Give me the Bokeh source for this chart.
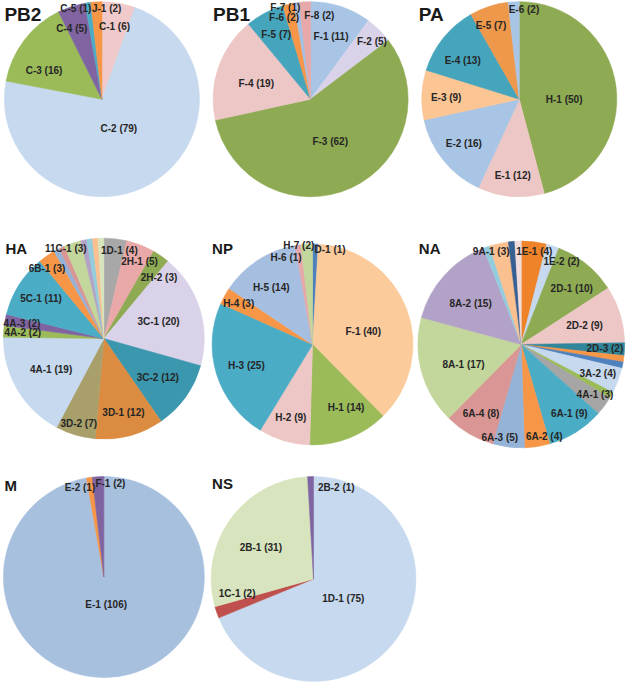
import math
from bokeh.plotting import figure
from bokeh.models import Range1d, ColumnDataSource
from bokeh.embed import file_html
from bokeh.resources import INLINE
from bokeh.core.properties import value

# ---------------- data (clockwise from 12 o'clock) ----------------
PB2_labels = ["C-1", "C-2", "C-3", "C-4", "C-5", "J-1"]
PB2_values = [6, 79, 16, 5, 1, 2]

PB1_labels = ["F-1", "F-2", "F-3", "F-4", "F-5", "F-6", "F-7", "F-8"]
PB1_values = [11, 5, 62, 19, 7, 2, 1, 2]

PA_labels = ["H-1", "E-1", "E-2", "E-3", "E-4", "E-5", "E-6"]
PA_values = [50, 12, 16, 9, 13, 7, 2]

HA_labels = ["1D-1", "2H-1", "2H-2", "3C-1", "3C-2", "3D-1", "3D-2", "4A-1",
             "4A-2", "4A-3", "5C-1", "6B-1", "", "", "11C-1", "", "", "", ""]
HA_values = [4, 5, 3, 20, 12, 12, 7, 19, 2, 2, 11, 3, 1, 1, 3, 1, 1, 1, 1]

NP_labels = ["D-1", "F-1", "H-1", "H-2", "H-3", "H-4", "H-5", "H-6", "H-7"]
NP_values = [1, 40, 14, 9, 25, 3, 14, 1, 2]

NA_labels = ["1E-1", "1E-2", "2D-1", "2D-2", "2D-3", "", "", "3A-2", "", "4A-1",
             "6A-1", "6A-2", "6A-3", "6A-4", "8A-1", "8A-2", "", "9A-1", "", ""]
NA_values = [4, 2, 10, 9, 2, 1, 1, 4, 1, 3, 9, 4, 5, 8, 17, 15, 1, 3, 1, 1]

M_labels = ["E-1", "E-2", "F-1"]
M_values = [106, 1, 2]

NS_labels = ["1D-1", "1C-1", "2B-1", "2B-2"]
NS_values = [75, 2, 31, 1]

# ---------------- styles ----------------
BLUE_L = "#C6D9EE"; GREEN = "#9BBB59"; GREEN_D = "#8EAA52"; PURPLE = "#8064A2"
TEAL = "#4BACC6"; ORANGE = "#F79646"; PINK = "#EDC7C5"; BLUE_M = "#A9C5E6"

PB2_colors = ["#F0CACA", BLUE_L, GREEN, PURPLE, TEAL, ORANGE]
PB1_colors = [BLUE_M, "#D9D2E9", GREEN_D, PINK, "#45A5BD", ORANGE, "#A6BFE0", "#E6A8A8"]
PA_colors = [GREEN_D, PINK, BLUE_M, "#FBC594", "#45A5BD", "#EE984C", BLUE_M]
HA_colors = ["#A8A8A8", "#E8A9A8", GREEN_D, "#D9D2E9", "#3A97AE", "#DC8C40", "#A99F6B",
             BLUE_L, GREEN, PURPLE, TEAL, ORANGE, "#95B3D7", "#D99694", "#C3D69B",
             "#B3A2C7", "#93CDDD", "#FAC090", "#D7E4BD"]
NP_colors = ["#4F81BD", "#FBCB9C", GREEN, PINK, TEAL, ORANGE, "#A6BFE0", "#E6A8A8", "#C3D69B"]
NA_colors = ["#EE8329", BLUE_L, GREEN_D, PINK, "#31869B", ORANGE, "#4F81BD", BLUE_L,
             GREEN, "#A5A5A5", TEAL, ORANGE, "#95B3D7", "#D99694", "#C3D69B", "#B3A2C7",
             "#93CDDD", "#FAC090", "#376092", "#F2DCDB"]
M_colors = ["#A7C0DE", ORANGE, PURPLE]
NS_colors = [BLUE_L, "#C0504D", "#D7E4BD", PURPLE]

# ---------------- layout (reference image coords, 644 x 700) ----------------
# name, labels, values, colors, center x, center y, radius, title x, title y, title size,
# label placement overrides {label: (radius fraction, angle deg clockwise from top or None)}
pies = [
    ("PB2", PB2_labels, PB2_values, PB2_colors, 104, 101, 100, 4, 14, "19px",
     {"C-1": (0.75, None), "C-2": (0.35, None), "C-3": (0.66, 296), "C-4": (0.79, 337),
      "C-5": (0.97, 344), "J-1": (0.93, 3)}),
    ("PB1", PB1_labels, PB1_values, PB1_colors, 318, 101, 100, 218, 14, "19px",
     {"F-1": (0.67, None), "F-2": (0.86, 47), "F-3": (0.48, None), "F-4": (0.58, 286),
      "F-5": (0.75, None), "F-6": (0.88, 342), "F-7": (0.97, 344.5), "F-8": (0.86, 6)}),
    ("PA", PA_labels, PA_values, PA_colors, 532, 101, 100, 429, 14, "19px",
     {"H-1": (0.46, 90), "E-1": (0.78, None), "E-2": (0.73, None), "E-3": (0.75, 271),
      "E-4": (0.70, 304), "E-5": (0.81, 339), "E-6": (0.92, 3)}),
    ("HA", HA_labels, HA_values, HA_colors, 106, 346, 103, 5, 254, "15px",
     {"1D-1": (0.89, 10), "2H-1": (0.84, 25), "2H-2": (0.82, 42), "3C-1": (0.57, None),
      "3C-2": (0.66, None), "3D-1": (0.76, None), "3D-2": (0.88, None), "4A-1": (0.61, None),
      "4A-2": (0.81, None), "4A-3": (0.83, None), "5C-1": (0.74, None), "6B-1": (0.9, 321),
      "11C-1": (0.97, 337)}),
    ("NP", NP_labels, NP_values, NP_colors, 320, 352, 103, 217, 254, "15px",
     {"D-1": (0.96, 10.5), "F-1": (0.52, 76), "H-1": (0.71, 152), "H-2": (0.76, None),
      "H-3": (0.69, None), "H-4": (0.84, None), "H-5": (0.70, 324), "H-6": (0.90, 343),
      "H-7": (0.99, 352)}),
    ("NA", NA_labels, NA_values, NA_colors, 534, 352, 106, 429, 254, "15px",
     {"1E-1": (0.91, 8), "1E-2": (0.89, 26), "2D-1": (0.73, 42), "2D-2": (0.64, None),
      "2D-3": (0.81, None), "3A-2": (0.79, None), "4A-1": (0.86, 124), "6A-1": (0.81, 145),
      "6A-2": (0.92, 166), "6A-3": (0.92, 193), "6A-4": (0.77, None), "8A-1": (0.59, 251),
      "8A-2": (0.63, 309), "9A-1": (0.94, 342)}),
    ("M", M_labels, M_values, M_colors, 106, 590, 103, 4, 496, "15px",
     {"E-1": (0.27, None), "E-2": (0.92, 345), "F-1": (0.93, 4)}),
    ("NS", NS_labels, NS_values, NS_colors, 321, 592, 105, 217, 494, "15px",
     {"1D-1": (0.35, None), "1C-1": (0.76, 259), "2B-1": (0.60, 301), "2B-2": (0.92, 14)}),
]

REF_W, REF_H = 644, 700
W, H = 628, 684   # fits inside the 8px page margin

p = figure(width=W, height=H, output_backend="svg", toolbar_location=None,
           x_range=Range1d(0, REF_W), y_range=Range1d(0, REF_H),
           min_border=0, border_fill_color="white", background_fill_color="white")
p.axis.visible = False
p.grid.visible = False
p.outline_line_color = None

FONT = value("Liberation Sans")

for (title, labels, values, colors, cx, cy, r, tx, ty, tsize, lab_pos) in pies:
    total = float(sum(values))
    cyd = REF_H - cy
    starts, ends, lx, ly, ltxt = [], [], [], [], []
    cum = 0.0
    for lab, v in zip(labels, values):
        a0 = cum / total * 2 * math.pi
        a1 = (cum + v) / total * 2 * math.pi
        starts.append(math.pi / 2 - a1)
        ends.append(math.pi / 2 - a0)
        if lab:
            frac, ang = lab_pos.get(lab, (0.6, None))
            mid = (a0 + a1) / 2 if ang is None else math.radians(ang)
            lx.append(cx + frac * r * math.sin(mid))
            ly.append(cyd + frac * r * math.cos(mid))
            ltxt.append(f"{lab} ({v})")
        cum += v
    src = ColumnDataSource(dict(x=[cx] * len(values), y=[cyd] * len(values),
                                s=starts, e=ends, c=colors))
    p.wedge(x="x", y="y", radius=r, start_angle="s", end_angle="e", direction="anticlock",
            fill_color="c", line_color="c", line_width=0.6, source=src)
    p.text(x=lx, y=ly, text=ltxt, text_font=FONT, text_font_style="bold",
           text_font_size="10px", text_color="#262626", text_align="center",
           text_baseline="middle")
    p.text(x=[tx], y=[REF_H - ty], text=[title], text_font=FONT, text_font_style="bold",
           text_font_size=tsize, text_color="#1a1a1a", text_align="left",
           text_baseline="middle")

open("out.html", "w").write(file_html(p, INLINE))
